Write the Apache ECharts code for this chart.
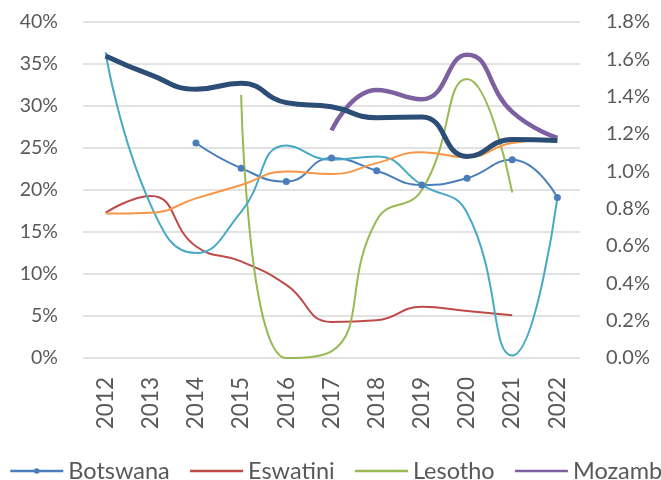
<!DOCTYPE html>
<html><head><meta charset="utf-8">
<script src="https://cdn.jsdelivr.net/npm/echarts@6/dist/echarts.min.js"></script>
<style>html,body{margin:0;padding:0;background:#fff}#c{width:661px;height:480px}</style>
</head><body><div id="c"></div>
<script>
const years = ['2012','2013','2014','2015','2016','2017','2018','2019','2020','2021','2022'];
const botswana   = [null, null, 25.6, 22.6, 21.0, 23.8, 22.3, 20.6, 21.4, 23.6, 19.1];
const eswatini   = [17.3, 19.3, 13.3, 11.5, 8.7, 4.3, 4.5, 6.1, 5.6, 5.1, null];
const lesotho    = [null, null, null, 31.3, 0.0, 0.8, 16.4, 20.0, 33.2, 19.7, null];
const mozambique = [null, null, null, null, null, 27.1, 31.9, 30.8, 36.1, 29.3, 26.2];
const namibia    = [36.4, 18.2, 12.5, 17.4, 25.3, 23.6, 24.0, 20.6, 17.3, 0.3, 19.1];
const southAfrica= [17.2, 17.3, 19.0, 20.6, 22.2, 21.9, 23.2, 24.5, 23.9, 25.6, 26.0];
const zimbabwe   = [35.95, 33.7, 32.0, 32.7, 30.4, 29.9, 28.6, 28.7, 24.0, 26.0, 25.9];
const legendNames = ['Botswana','Eswatini','Lesotho','Mozambique','Namibia','South Africa','Zimbabwe'];
const leftTicks = {min: 0, max: 40, interval: 5};
const rightTicks = {min: 0, max: 1.8, interval: 0.2};

const font = 'Lato';
const txt = '#595959';
function line(name, data, color, width, extra) {
  return Object.assign({
    name, type: 'line', data, smooth: 0.5, connectNulls: false,
    symbol: 'none', lineStyle: {color, width}, itemStyle: {color},
    emphasis: {disabled: true}, z: 2
  }, extra || {});
}
const chart = echarts.init(document.getElementById('c'), null, {renderer: 'canvas'});
chart.setOption({
  animation: false,
  backgroundColor: '#fff',
  grid: {left: 83, right: 81, top: 22, bottom: 122},
  xAxis: {
    type: 'category', data: years, boundaryGap: true,
    axisLine: {show: false}, axisTick: {show: false},
    axisLabel: {rotate: 90, color: txt, fontFamily: font, fontSize: 22.5, margin: 19}
  },
  yAxis: [
    {type: 'value', min: leftTicks.min, max: leftTicks.max, interval: leftTicks.interval,
     axisLine: {show: false}, axisTick: {show: false},
     splitLine: {lineStyle: {color: '#D9D9D9', width: 1.5}},
     axisLabel: {formatter: v => v + '%', color: txt, fontFamily: font, fontSize: 19.5, margin: 25}},
    {type: 'value', min: rightTicks.min, max: rightTicks.max, interval: rightTicks.interval, position: 'right',
     axisLine: {show: false}, axisTick: {show: false}, splitLine: {show: false},
     axisLabel: {formatter: v => v.toFixed(1) + '%', color: txt, fontFamily: font, fontSize: 20, margin: 26}}
  ],
  legend: {
    left: 4, top: 454, width: 1600, itemGap: 19, itemWidth: 53, itemHeight: 7,
    lineStyle: {width: 2.5},
    textStyle: {color: txt, fontFamily: font, fontSize: 23.5},
    data: legendNames.map((n, i) => i === 0 ? {name: n} : {name: n, itemStyle: {opacity: 0}})
  },
  series: [
    line('Botswana', botswana, '#4A7EBB', 2, {symbol: 'circle', symbolSize: 7, showSymbol: true}),
    line('Eswatini', eswatini, '#BE4B48', 2),
    line('Lesotho', lesotho, '#98B954', 2),
    line('Mozambique', mozambique, '#7D60A0', 4.5),
    line('Namibia', namibia, '#46AAC5', 2),
    line('South Africa', southAfrica, '#F79646', 2),
    line('Zimbabwe', zimbabwe, '#2C4D75', 5)
  ]
});
</script></body></html>
